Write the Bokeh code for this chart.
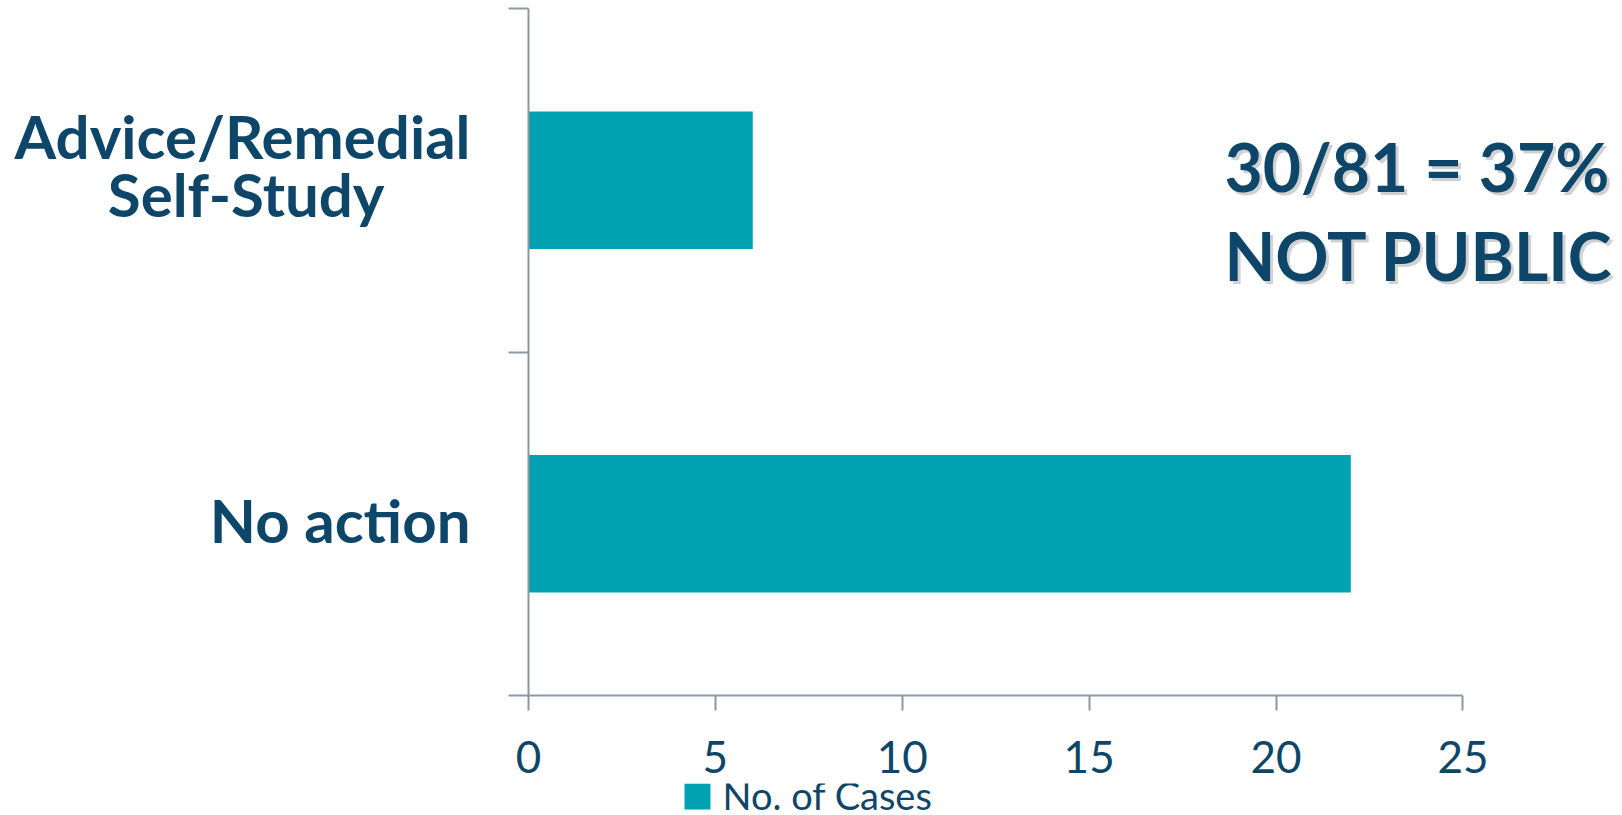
from bokeh.plotting import figure
from bokeh.layouts import column
from bokeh.models import FixedTicker, Range1d, Label
from bokeh.core.properties import value
from bokeh.embed import file_html
from bokeh.resources import INLINE

# ---- data ----
categories = ["Advice/Remedial\nSelf-Study", "No action"]   # top to bottom
cases = [6, 22]
x_ticks = [0, 5, 10, 15, 20, 25]
series_name = "No. of Cases"
note_line1 = "30/81 = 37%"
note_line2 = "NOT PUBLIC"

BAR = "#00A1B1"
NAVY = "#0E4669"
GRAY = "#8C97A3"

n = len(categories)
ys = [n - i - 0.5 for i in range(n)]

# label anchors (small upward nudges so the text sits like the original)
label_pos = [ys[0] + 0.044, ys[1] + 0.012]
NB = "\u00a0"
label_text = {label_pos[0]: "Advice/Remedial\nSelf-Study" + NB * 6,
              label_pos[1]: categories[1]}

LEFT = 528  # left border (shared by both stacked plots)

p = figure(width=1622, height=783, output_backend="svg", toolbar_location=None,
           x_range=Range1d(0, 29.27), y_range=Range1d(0, n),
           min_border_left=LEFT, min_border_right=0, min_border_top=8,
           min_border_bottom=88)
p.outline_line_color = None
p.xgrid.visible = False
p.ygrid.visible = False

r = p.hbar(y=ys, right=cases, left=0, height=0.4, fill_color=BAR, line_color=None)

# x axis
xa = p.xaxis[0]
xa.ticker = FixedTicker(ticks=x_ticks)
xa.bounds = (0, 25)
xa.axis_line_color = GRAY
xa.axis_line_width = 2
xa.major_tick_line_color = GRAY
xa.major_tick_line_width = 2
xa.major_tick_out = 15
xa.major_tick_in = 0
xa.minor_tick_out = 0
xa.minor_tick_in = 0
xa.major_label_text_font = "Lato"
xa.major_label_text_font_size = "44px"
xa.major_label_text_color = NAVY
xa.major_label_standoff = 30

# y axis: labels at category centres, ticks at category boundaries
ya = p.yaxis[0]
ya.ticker = FixedTicker(ticks=label_pos, minor_ticks=list(range(n + 1)))
ya.major_label_overrides = label_text
ya.bounds = (0, n)
ya.axis_line_color = GRAY
ya.axis_line_width = 2
ya.major_tick_out = 0
ya.major_tick_in = 0
ya.minor_tick_out = 20
ya.minor_tick_in = 0
ya.minor_tick_line_color = GRAY
ya.minor_tick_line_width = 2
ya.major_label_standoff = 38
ya.major_label_text_font = "Lato"
ya.major_label_text_font_style = "bold"
ya.major_label_text_font_size = "60px"
ya.major_label_text_color = NAVY
ya.major_label_text_line_height = 0.8

# annotation text with soft shadow
for txt, yy in [(note_line1, 1.54), (note_line2, 1.28)]:
    p.add_layout(Label(x=18.62, y=yy, text=txt, text_font="Lato", text_font_style="bold",
                       text_font_size="66px", text_color="#000000", text_alpha=0.18,
                       text_baseline="alphabetic", x_offset=3, y_offset=-3))
    p.add_layout(Label(x=18.62, y=yy, text=txt, text_font="Lato", text_font_style="bold",
                       text_font_size="66px", text_color=NAVY,
                       text_baseline="alphabetic"))

# legend strip below the chart (frame aligned with the chart's frame; pixel-scaled ranges)
pl = figure(width=1622, height=32, output_backend="svg", toolbar_location=None,
            x_axis_location=None, y_axis_location=None,
            x_range=Range1d(LEFT, 1622), y_range=Range1d(0, 32),
            min_border_left=LEFT, min_border_right=0, min_border_top=0, min_border_bottom=0)
pl.outline_line_color = None
pl.xgrid.visible = False
pl.ygrid.visible = False
pl.quad(left=[684], right=[710], bottom=[6], top=[32], fill_color=BAR, line_color=None)
pl.text(x=[722], y=[21], text=[series_name], text_font=value("Lato"), text_font_size="38px",
        text_color=NAVY, text_baseline="middle", text_align="left")

layout = column(p, pl, spacing=0)
open("out.html", "w").write(file_html(layout, INLINE))
